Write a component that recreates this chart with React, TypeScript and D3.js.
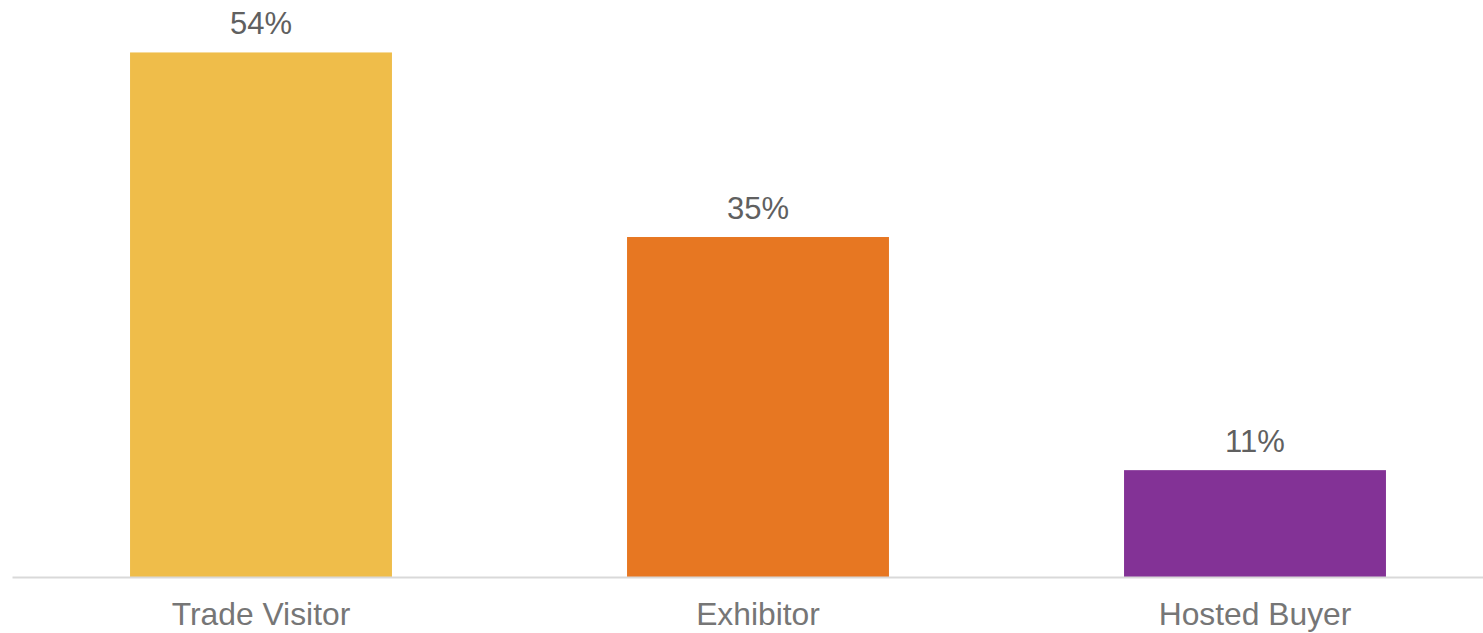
import React from "react";
import * as d3 from "d3";

const categories = ["Trade Visitor", "Exhibitor", "Hosted Buyer"];
const values = [54, 35, 11];
const colors = ["#EFBD4A", "#E77722", "#833296"];

const W = 1483;
const H = 633;
const baseline = 577;

export default function App() {
  const x = d3
    .scaleBand<string>()
    .domain(categories)
    .range([12.5, 1503.5])
    .paddingInner(0.473)
    .paddingOuter(0.2365);
  const y = d3.scaleLinear().domain([0, 59.4]).range([baseline, 0]);

  return (
    <svg
      width={W}
      height={H}
      style={{ position: "absolute", left: 0, top: 0, display: "block" }}
      fontFamily="'Liberation Sans', Arial, sans-serif"
    >
      <rect x={0} y={0} width={W} height={H} fill="#ffffff" />
      {categories.map((c, i) => (
        <g key={c}>
          <rect
            x={x(c)!}
            y={y(values[i])}
            width={x.bandwidth()}
            height={baseline - y(values[i])}
            fill={colors[i]}
          />
          <text
            x={x(c)! + x.bandwidth() / 2}
            y={y(values[i]) - 18.5}
            textAnchor="middle"
            fontSize={31}
            fill="#606060"
          >
            {values[i]}%
          </text>
          <text
            x={x(c)! + x.bandwidth() / 2}
            y={625}
            textAnchor="middle"
            fontSize={31.8}
            fill="#767676"
          >
            {c}
          </text>
        </g>
      ))}
      <line x1={12.5} x2={W} y1={baseline + 0.5} y2={baseline + 0.5} stroke="#D9D9D9" strokeWidth={2} />
    </svg>
  );
}
